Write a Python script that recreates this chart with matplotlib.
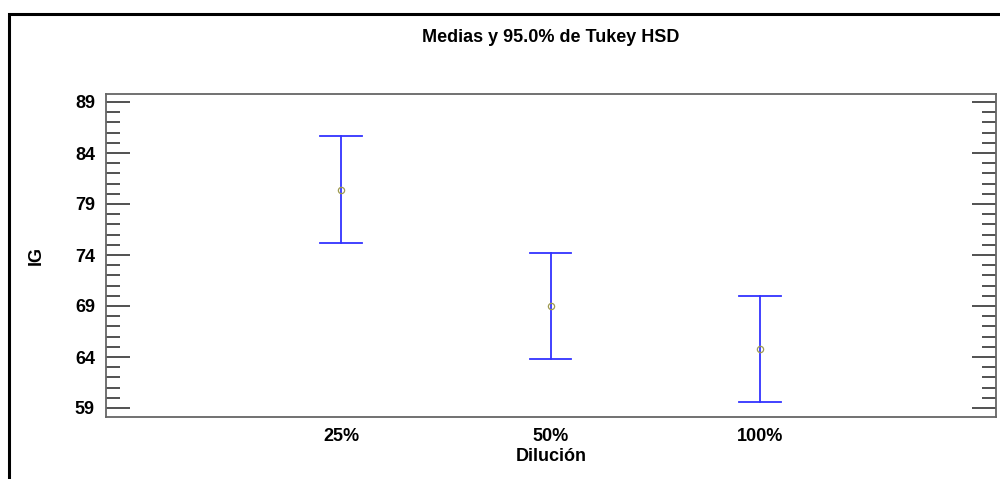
import matplotlib
matplotlib.use("Agg")
import matplotlib.pyplot as plt
from matplotlib.ticker import FixedLocator
from matplotlib.patches import Rectangle

categories = ["25%", "50%", "100%"]
means = [80.4, 69.0, 64.75]
lower = [75.2, 63.8, 59.56]
upper = [85.67, 74.17, 70.01]
yticks = [59, 64, 69, 74, 79, 84, 89]

plt.rcParams['font.family'] = ['Liberation Sans', 'DejaVu Sans']

W, H = 1000, 479
fig = plt.figure(figsize=(W / 100, H / 100), dpi=100)
ax = fig.add_axes([106 / W, 1 - 417 / H, (996 - 106) / W, (417 - 94) / H])

# outer frame
fig.patches.append(Rectangle((9 / W, -0.1), 1.2, 1 - 14.5 / H + 0.1, transform=fig.transFigure,
                             fill=False, edgecolor='black', linewidth=2.2, zorder=0))

x = list(range(1, len(categories) + 1))
for xi, m, lo, up in zip(x, means, lower, upper):
    ax.plot([xi, xi], [lo, up], color='#3333ff', lw=1.3)
    ax.plot([xi - 0.1, xi + 0.1], [lo, lo], color='#3333ff', lw=1.3)
    ax.plot([xi - 0.1, xi + 0.1], [up, up], color='#3333ff', lw=1.3)
ax.plot(x, means, linestyle='none', marker='o', markersize=4.5, markerfacecolor='none',
        markeredgecolor='#9e9a50', markeredgewidth=0.9, zorder=3)

ax.set_xlim(1 - 235 / 209.5, 3 + 236 / 209.5)
ax.set_ylim(59 - 9 / 10.2, 89 + 8 / 10.2)

ax.xaxis.set_major_locator(FixedLocator(x))
ax.set_xticklabels(categories, fontsize=13, fontweight='bold')
ax.tick_params(axis='x', length=0, pad=8)

ax.yaxis.set_major_locator(FixedLocator(yticks))
ax.yaxis.set_minor_locator(FixedLocator([v for v in range(59, 90) if v not in yticks]))
ax.set_yticklabels([str(v) for v in yticks], fontsize=13, fontweight='bold')
ax.tick_params(axis='y', which='major', direction='in', length=17, width=1.2, color='#333333',
               left=True, right=True, pad=8)
ax.tick_params(axis='y', which='minor', direction='in', length=10, width=1.2, color='#333333',
               left=True, right=True)

for s in ax.spines.values():
    s.set_color('#666666')
    s.set_linewidth(1.3)

ax.set_xlabel('Dilución', fontsize=13, fontweight='bold', labelpad=2)
ax.set_ylabel('IG', fontsize=13, fontweight='bold', labelpad=22)
fig.text(551 / W, 1 - 38 / H, 'Medias y 95.0% de Tukey HSD', ha='center', va='center',
         fontsize=13, fontweight='bold')

fig.savefig('out.png', dpi=100, facecolor='white')
